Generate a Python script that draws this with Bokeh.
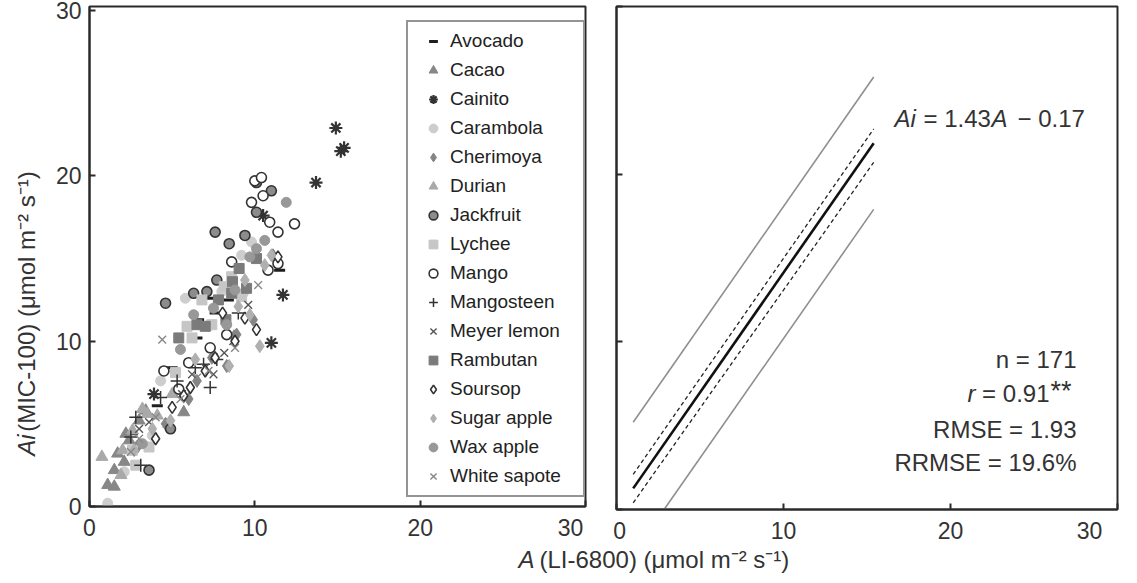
import math
from bokeh.plotting import figure
from bokeh.layouts import row, column
from bokeh.models import Range1d, FixedTicker, Label
from bokeh.core.properties import value
from bokeh.embed import file_html
from bokeh.resources import INLINE

FONT = "Liberation Sans"

# ---------------- data ----------------
avocado_x = [11.5, 7.3, 8.4, 7.6, 6.6, 6.5, 5.0, 4.1, 2.6]
avocado_y = [14.3, 12.6, 12.5, 11.7, 11.3, 10.2, 8.4, 6.1, 4.4]

cacao_x = [5.7, 4.8, 2.2, 1.7, 2.1, 1.5, 1.1, 1.5, 2.4, 3.0, 3.4]
cacao_y = [5.7, 5.0, 4.4, 3.2, 2.7, 2.2, 1.3, 1.2, 4.0, 5.2, 5.8]

cainito_x = [14.9, 15.2, 15.4, 13.7, 10.5, 11.7, 11.0, 3.9]
cainito_y = [22.9, 21.5, 21.7, 19.6, 17.6, 12.8, 9.9, 6.8]

carambola_x = [9.8, 9.2, 5.8, 7.2, 1.1, 2.1, 4.3, 3.8, 9.3, 8.0]
carambola_y = [16.0, 15.2, 12.6, 10.9, 0.2, 2.1, 7.6, 4.3, 12.9, 13.0]

cherimoya_x = [11.1, 9.9, 8.9, 6.5, 8.75, 7.4, 8.3, 6.0, 4.6, 2.9]
cherimoya_y = [15.2, 11.3, 10.4, 7.6, 10.3, 9.0, 8.5, 6.5, 5.0, 3.6]

durian_x = [0.75, 3.2, 2.0, 2.6, 3.5, 1.9, 4.1, 5.0]
durian_y = [3.0, 5.9, 3.4, 4.6, 5.6, 1.9, 5.5, 6.8]

jackfruit_x = [10.1, 11.0, 10.1, 7.6, 8.45, 7.7, 7.1, 6.3, 4.6, 4.9, 3.6, 9.4]
jackfruit_y = [19.6, 19.1, 17.8, 16.6, 15.9, 13.7, 13.0, 12.9, 12.3, 4.7, 2.2, 16.4]

lychee_x = [8.15, 6.8, 9.2, 5.9, 7.4, 3.6, 2.8, 2.6, 5.2, 8.6, 6.2]
lychee_y = [13.3, 12.5, 12.7, 10.9, 11.0, 3.6, 2.5, 3.4, 8.1, 13.9, 10.2]

mango_x = [10.0, 10.5, 9.8, 10.9, 11.4, 12.4, 8.6, 11.4, 10.8, 8.3, 4.5, 5.4, 7.3, 10.4, 6.0]
mango_y = [19.7, 18.8, 18.4, 17.2, 16.6, 17.1, 14.8, 14.7, 14.3, 10.4, 8.2, 7.1, 9.6, 19.9, 8.7]

mangosteen_x = [7.3, 5.3, 6.4, 6.9, 4.3, 2.8, 2.5, 3.1, 9.0, 7.7]
mangosteen_y = [7.2, 7.6, 8.4, 8.6, 6.6, 5.4, 4.2, 2.5, 11.7, 8.9]

meyer_x = [8.15, 7.5, 6.2, 3.0, 3.6, 7.0, 9.6, 5.6, 8.7]
meyer_y = [9.3, 8.0, 8.0, 4.7, 5.1, 8.4, 12.2, 6.8, 10.0]

rambutan_x = [10.1, 9.05, 8.65, 8.6, 7.8, 6.5, 8.25, 5.4, 9.5, 7.0]
rambutan_y = [15.0, 14.4, 13.6, 12.9, 12.5, 11.0, 11.3, 10.2, 13.2, 10.9]

soursop_x = [11.4, 8.05, 9.4, 10.1, 5.0, 5.7, 4.0, 7.0, 7.6, 8.8, 6.1]
soursop_y = [15.1, 11.7, 11.4, 10.7, 6.0, 6.7, 4.1, 8.2, 9.0, 10.0, 7.2]

sugar_x = [11.0, 10.3, 8.45, 3.8, 2.7, 9.0, 10.6, 9.7, 4.9, 6.4, 9.4]
sugar_y = [15.2, 9.7, 8.5, 4.7, 3.4, 12.1, 14.6, 11.6, 5.2, 8.9, 13.7]

wax_x = [11.9, 10.6, 10.1, 6.3, 5.5, 8.8, 9.7, 3.2, 7.5, 8.3]
wax_y = [18.4, 16.1, 15.6, 11.6, 9.5, 13.1, 15.1, 3.8, 12.0, 11.0]

white_x = [10.2, 4.4, 3.0, 4.0, 6.5, 8.8, 2.5, 5.5, 7.2]
white_y = [13.4, 10.1, 4.1, 5.4, 7.8, 9.6, 3.3, 6.5, 8.2]

# right panel lines (end points)
fit_x = [1.0, 15.4]
fit_y = [1.26, 21.85]
ci_up_y = [2.1, 22.7]
ci_lo_y = [0.4, 20.7]
pi_up_x = [1.0, 15.4]
pi_up_y = [5.2, 25.8]
pi_lo_x = [2.85, 15.4]
pi_lo_y = [0.0, 17.9]

ticks = [0, 10, 20, 30]
tick_labels = ["0", "10", "20", "30"]

INK = "#2a2a2a"

# ---------------- helpers ----------------
def style_axes(p, show_y_labels=True, first_shift=False):
    for ax in (p.xaxis[0], p.yaxis[0]):
        ax.ticker = FixedTicker(ticks=ticks)
        ax.major_tick_in = 6
        ax.major_tick_out = 0
        ax.minor_tick_line_color = None
        ax.axis_line_width = 2
        ax.axis_line_color = INK
        ax.major_tick_line_width = 2
        ax.major_tick_line_color = INK
        ax.major_label_text_font = FONT
        ax.major_label_text_font_size = "23px"
        ax.major_label_text_color = "#333333"
        ax.major_label_standoff = 8
    ov = {t: l for t, l in zip(ticks, tick_labels)}
    ov[30] = "30\u00a0\u00a0\u00a0"
    if first_shift:
        ov[0] = "\u00a00"
    p.xaxis[0].major_label_overrides = ov
    if not show_y_labels:
        p.yaxis[0].major_label_overrides = {t: "" for t in ticks}
        p.yaxis[0].major_label_standoff = 0
    p.grid.visible = False
    p.outline_line_color = INK
    p.outline_line_width = 2
    p.background_fill_color = "white"
    p.border_fill_color = "white"

# ---------------- left panel ----------------
p1 = figure(frame_width=496, frame_height=500, min_border_left=39, min_border_right=17,
            min_border_top=6, min_border_bottom=35,
            x_range=Range1d(0, 30), y_range=Range1d(0, 30.25),
            output_backend="svg", toolbar_location=None)
style_axes(p1)

S = 10
p1.scatter(avocado_x, avocado_y, marker="dash", size=11, line_color="#1e1e1e", line_width=3,
           legend_label="Avocado")
p1.scatter(cacao_x, cacao_y, marker="triangle", size=12, fill_color="#878787", line_color="#878787",
           legend_label="Cacao")
p1.scatter(cainito_x, cainito_y, marker="asterisk", size=13, line_color="#333333", line_width=2.2,
           legend_label="Cainito")
p1.scatter(carambola_x, carambola_y, marker="circle", size=S, fill_color="#cdcdcd", line_color="#cdcdcd",
           legend_label="Carambola")
p1.scatter(cherimoya_x, cherimoya_y, marker="diamond", size=13, fill_color="#858585", line_color="#858585",
           legend_label="Cherimoya")
p1.scatter(durian_x, durian_y, marker="triangle", size=12, fill_color="#a9a9a9", line_color="#a9a9a9",
           legend_label="Durian")
p1.scatter(jackfruit_x, jackfruit_y, marker="circle", size=S, fill_color="#8c8c8c", line_color="#333333",
           line_width=1.6, legend_label="Jackfruit")
p1.scatter(lychee_x, lychee_y, marker="square", size=S, fill_color="#c6c6c6", line_color="#c6c6c6",
           legend_label="Lychee")
p1.scatter(mango_x, mango_y, marker="circle", size=S, fill_color="white", line_color="#333333",
           line_width=1.6, legend_label="Mango")
p1.scatter(mangosteen_x, mangosteen_y, marker="cross", size=13, line_color="#333333", line_width=1.5,
           legend_label="Mangosteen")
p1.scatter(meyer_x, meyer_y, marker="x", size=11, line_color="#555555", line_width=1.4,
           legend_label="Meyer lemon")
p1.scatter(rambutan_x, rambutan_y, marker="square", size=S, fill_color="#7b7b7b", line_color="#7b7b7b",
           legend_label="Rambutan")
p1.scatter(soursop_x, soursop_y, marker="diamond", size=12, fill_color="white", line_color="#333333",
           line_width=1.6, legend_label="Soursop")
p1.scatter(sugar_x, sugar_y, marker="diamond", size=13, fill_color="#b0b0b0", line_color="#b0b0b0",
           legend_label="Sugar apple")
p1.scatter(wax_x, wax_y, marker="circle", size=S, fill_color="#989898", line_color="#989898",
           legend_label="Wax apple")
p1.scatter(white_x, white_y, marker="x", size=11, line_color="#888888", line_width=1.4,
           legend_label="White sapote")

lg = p1.legend[0]
lg.location = (317, 9)
lg.margin = 0
lg.padding = 8
lg.spacing = 7
lg.glyph_width = 34
lg.glyph_height = 22
lg.label_height = 22
lg.label_width = 125
lg.label_standoff = 0
lg.label_text_font = FONT
lg.label_text_font_size = "19px"
lg.label_text_color = "#222222"
lg.border_line_color = INK
lg.border_line_width = 2
lg.background_fill_alpha = 1.0

# ---------------- right panel ----------------
p2 = figure(frame_width=501, frame_height=503, min_border_left=14, min_border_right=4,
            min_border_top=3, min_border_bottom=35,
            x_range=Range1d(0, 30), y_range=Range1d(0, 30),
            output_backend="svg", toolbar_location=None)
style_axes(p2, show_y_labels=False, first_shift=True)

p2.line(pi_up_x, pi_up_y, line_color="#8f8f8f", line_width=1.6)
p2.line(pi_lo_x, pi_lo_y, line_color="#8f8f8f", line_width=1.6)
p2.line(fit_x, ci_up_y, line_color="#222222", line_width=1.3, line_dash="4 3")
p2.line(fit_x, ci_lo_y, line_color="#222222", line_width=1.3, line_dash="4 3")
p2.line(fit_x, fit_y, line_color="#111111", line_width=2.6)

def px2x(px):
    return (px - 624) / 16.7

def py2y(py):
    return (514 - py) / 16.77

def add_label(p, px, py, text, italic=False, align="left", size="24px"):
    p.add_layout(Label(x=px2x(px), y=py2y(py), text=text, text_font=FONT,
                       text_font_size=size, text_color="#333333",
                       text_font_style="italic" if italic else "normal",
                       text_align=align, text_baseline="middle"))

add_label(p2, 902, 123, "Ai", italic=True)
add_label(p2, 931, 123, "= 1.43")
add_label(p2, 999, 123, "A", italic=True)
add_label(p2, 1025, 123, "\u2212 0.17")

add_label(p2, 1084, 364, "n = 171", align="right")
add_label(p2, 975, 398, "r", italic=True)
add_label(p2, 1057, 398, "= 0.91", align="right")
add_label(p2, 1058, 395, "**", size="27px")
add_label(p2, 1084, 434, "RMSE = 1.93", align="right")
add_label(p2, 1084, 467, "RRMSE = 19.6%", align="right")

# ---------------- axis titles ----------------
ty = figure(width=50, height=541, x_range=Range1d(0, 50), y_range=Range1d(0, 541),
            min_border=0, x_axis_type=None, y_axis_type=None,
            output_backend="svg", toolbar_location=None)
ty.outline_line_color = None
ty.grid.visible = False
ty.text(x=[26], y=[53], text=["Ai"], angle=math.pi / 2,
        text_font=value(FONT), text_font_size="24px", text_font_style="italic",
        text_color="#333333", text_align="left", text_baseline="middle")
ty.text(x=[26], y=[79], text=["(MIC-100) (\u03bcmol m\u207b\u00b2 s\u207b\u00b9)"],
        angle=math.pi / 2,
        text_font=value(FONT), text_font_size="24px",
        text_color="#333333", text_align="left", text_baseline="middle")

tx = figure(width=1121, height=30, x_range=Range1d(0, 1121), y_range=Range1d(0, 30),
            min_border=0, x_axis_type=None, y_axis_type=None,
            output_backend="svg", toolbar_location=None)
tx.outline_line_color = None
tx.grid.visible = False
tx.text(x=[518], y=[14], text=["A"],
        text_font=value(FONT), text_font_size="24px", text_font_style="italic",
        text_color="#333333", text_align="left", text_baseline="middle")
tx.text(x=[539], y=[14], text=["(LI-6800) (\u03bcmol m\u207b\u00b2 s\u207b\u00b9)"],
        text_font=value(FONT), text_font_size="24px",
        text_color="#333333", text_align="left", text_baseline="middle")

layout = column(row(ty, p1, p2), tx)

open("out.html", "w").write(file_html(layout, INLINE))
